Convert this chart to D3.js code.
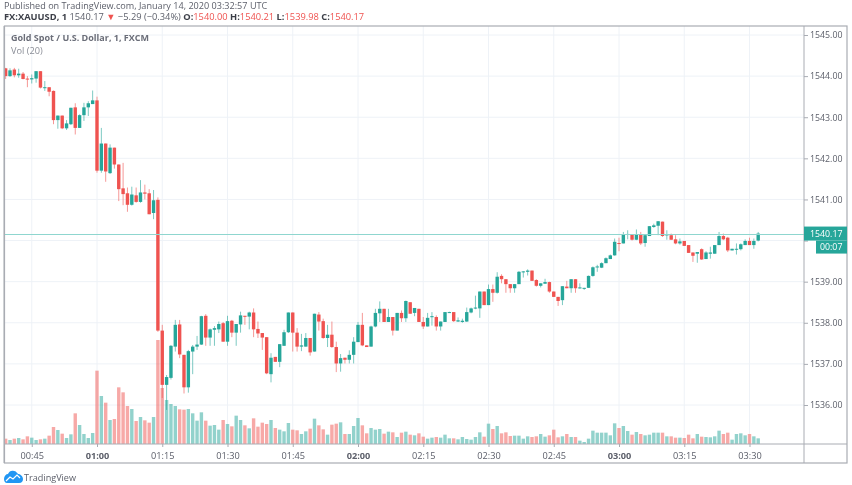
<!DOCTYPE html>
<html><head><meta charset="utf-8">
<script src="https://d3js.org/d3.v7.min.js"></script>
<style>html,body{margin:0;padding:0;background:#fff;overflow:hidden}svg{display:block;filter:blur(.3px)}text{font-family:"Open Sans","Noto Sans",sans-serif}</style>
</head><body><svg id="c" width="852" height="485"></svg>
<script>
const opens=[
1544.19,1544.00,1544.16,1544.02,1544.06,1543.94,1543.92,1543.94,1544.12,1543.71,
1543.73,1543.64,1542.93,1543.04,1542.73,1542.83,1543.24,1542.74,1543.05,1543.24,
1543.32,1543.41,1541.70,1542.36,1541.64,1542.26,1541.85,1541.27,1541.15,1540.87,
1541.10,1540.94,1541.17,1541.15,1540.67,1540.99,1537.81,1536.49,1536.66,1537.42,
1537.96,1537.22,1536.43,1537.30,1537.42,1537.47,1538.17,1537.64,1537.83,1537.84,
1537.99,1537.54,1538.05,1537.76,1537.96,1538.17,1538.15,1538.25,1537.85,1537.75,
1537.65,1536.75,1537.17,1537.05,1537.44,1537.77,1538.25,1537.76,1537.42,1537.42,
1537.63,1537.30,1538.20,1538.04,1537.63,1537.71,1537.41,1537.01,1537.15,1537.10,
1537.22,1537.53,1537.95,1537.45,1537.42,1537.91,1538.23,1538.34,1538.02,1538.14,
1537.81,1538.24,1538.11,1538.50,1538.24,1538.34,1538.02,1537.91,1538.14,1538.14,
1537.91,1538.02,1538.25,1538.26,1538.03,1538.02,1538.03,1538.25,1538.35,1538.35,
1538.76,1538.43,1538.82,1538.73,1539.14,1539.06,1538.94,1538.84,1538.94,1539.23,
1539.24,1539.27,1539.04,1538.90,1538.95,1538.99,1538.76,1538.63,1538.55,1538.88,
1538.84,1539.06,1538.85,1538.84,1538.85,1539.14,1539.35,1539.34,1539.45,1539.55,
1539.64,1539.94,1539.93,1540.14,1540.15,1540.02,1540.15,1539.94,1540.11,1540.33,
1540.36,1540.46,1540.13,1540.13,1540.03,1539.93,1539.99,1539.89,1539.71,1539.68,
1539.79,1539.55,1539.68,1539.68,1539.89,1540.11,1540.07,1539.76,1539.78,1539.79,
1539.89,1539.99,1539.89,1540.00];
const highs=[
1544.20,1544.19,1544.20,1544.18,1544.10,1544.00,1544.04,1544.12,1544.12,1543.88,
1543.73,1543.65,1543.04,1543.04,1542.93,1543.23,1543.34,1543.07,1543.35,1543.39,
1543.65,1543.50,1542.74,1542.36,1542.34,1542.26,1541.85,1541.89,1541.29,1541.31,
1541.29,1541.47,1541.36,1541.25,1541.23,1541.05,1537.95,1536.73,1537.46,1538.07,
1538.07,1537.22,1537.34,1537.46,1537.68,1538.17,1538.21,1537.86,1537.92,1538.03,
1538.02,1538.17,1538.07,1537.97,1538.27,1538.17,1538.27,1538.35,1538.03,1537.75,
1537.65,1537.26,1537.17,1537.48,1537.83,1538.25,1538.25,1537.87,1537.73,1537.75,
1537.63,1538.22,1538.26,1538.10,1537.95,1538.03,1537.54,1537.24,1537.15,1537.33,
1537.65,1538.02,1538.24,1537.45,1537.93,1538.34,1538.52,1538.34,1538.34,1538.14,
1538.24,1538.30,1538.54,1538.50,1538.36,1538.34,1538.14,1538.24,1538.26,1538.18,
1538.03,1538.26,1538.27,1538.26,1538.13,1538.10,1538.37,1538.37,1538.66,1538.76,
1538.76,1538.93,1538.93,1539.23,1539.18,1539.06,1538.94,1538.94,1539.26,1539.26,
1539.30,1539.27,1539.06,1538.96,1539.07,1539.00,1538.76,1538.63,1538.89,1539.02,
1539.06,1539.06,1538.96,1538.85,1539.15,1539.37,1539.41,1539.47,1539.59,1539.66,
1540.05,1540.07,1540.21,1540.25,1540.15,1540.27,1540.21,1540.14,1540.35,1540.41,
1540.47,1540.46,1540.25,1540.17,1540.13,1540.05,1539.99,1539.89,1539.71,1539.72,
1539.81,1539.74,1539.85,1539.89,1540.21,1540.17,1540.09,1539.80,1539.93,1539.93,
1540.03,1540.07,1540.05,1540.21];
const lows=[
1543.93,1543.98,1543.97,1543.96,1543.92,1543.73,1543.82,1543.84,1543.70,1543.64,
1543.51,1542.83,1542.72,1542.71,1542.69,1542.81,1542.58,1542.74,1542.91,1543.03,
1543.32,1541.65,1541.65,1541.43,1541.62,1541.75,1540.96,1540.86,1540.70,1540.85,
1540.92,1540.92,1541.00,1540.64,1540.52,1537.78,1536.17,1535.88,1536.62,1537.30,
1537.14,1536.28,1536.30,1536.75,1537.34,1537.46,1537.44,1537.44,1537.44,1537.75,
1537.54,1537.44,1537.65,1537.44,1537.76,1537.95,1537.84,1537.65,1537.63,1537.34,
1536.75,1536.55,1537.05,1536.92,1537.44,1537.75,1537.30,1537.30,1537.31,1537.42,
1537.20,1537.30,1537.81,1537.61,1537.41,1537.39,1536.80,1536.81,1537.01,1537.01,
1537.01,1537.53,1537.43,1537.41,1537.42,1537.89,1538.02,1538.02,1538.02,1537.69,
1537.81,1538.02,1538.02,1538.22,1538.16,1538.02,1537.85,1537.91,1537.93,1537.81,
1537.81,1538.02,1538.24,1538.02,1538.02,1538.00,1538.02,1538.23,1538.33,1538.12,
1538.43,1538.43,1538.51,1538.71,1538.96,1538.73,1538.73,1538.73,1538.94,1539.10,
1539.15,1539.02,1538.88,1538.86,1538.95,1538.73,1538.63,1538.41,1538.43,1538.84,
1538.73,1538.73,1538.83,1538.80,1538.85,1539.12,1539.24,1539.33,1539.45,1539.55,
1539.63,1539.74,1539.93,1540.03,1540.00,1540.01,1539.89,1539.85,1540.11,1540.31,
1540.13,1540.09,1540.02,1540.02,1539.91,1539.90,1539.87,1539.70,1539.48,1539.46,
1539.53,1539.55,1539.56,1539.68,1539.89,1540.01,1539.72,1539.76,1539.66,1539.76,
1539.89,1539.89,1539.80,1539.98];
const closes=[
1544.00,1544.14,1544.02,1544.06,1543.93,1543.92,1543.95,1544.12,1543.72,1543.73,
1543.62,1542.93,1543.04,1542.73,1542.85,1543.23,1542.74,1543.05,1543.24,1543.34,
1543.41,1541.70,1542.36,1541.68,1542.26,1541.85,1541.25,1541.13,1540.87,1541.12,
1540.94,1541.17,1541.14,1540.64,1540.98,1537.81,1536.49,1536.68,1537.44,1537.95,
1537.23,1536.43,1537.31,1537.42,1537.47,1538.16,1537.64,1537.84,1537.87,1537.97,
1537.54,1538.04,1537.76,1537.97,1538.18,1538.15,1538.25,1537.84,1537.74,1537.64,
1536.77,1537.15,1537.05,1537.48,1537.77,1538.25,1537.76,1537.42,1537.45,1537.63,
1537.28,1538.22,1538.03,1537.63,1537.71,1537.41,1537.01,1537.14,1537.10,1537.22,
1537.54,1537.95,1537.45,1537.41,1537.91,1538.24,1538.34,1538.02,1538.14,1537.81,
1538.24,1538.11,1538.53,1538.22,1538.36,1538.02,1537.91,1538.12,1538.16,1537.91,
1538.03,1538.26,1538.26,1538.04,1538.06,1538.05,1538.26,1538.35,1538.37,1538.76,
1538.43,1538.82,1538.73,1539.12,1539.06,1538.94,1538.84,1538.94,1539.24,1539.25,
1539.27,1539.02,1538.90,1538.96,1538.99,1538.76,1538.63,1538.53,1538.89,1538.84,
1539.06,1538.84,1538.86,1538.85,1539.14,1539.35,1539.37,1539.45,1539.57,1539.64,
1539.97,1539.93,1540.15,1540.16,1540.02,1540.15,1539.93,1540.13,1540.35,1540.37,
1540.47,1540.11,1540.15,1540.02,1539.93,1539.98,1539.87,1539.70,1539.63,1539.72,
1539.54,1539.71,1539.71,1539.89,1540.11,1540.03,1539.76,1539.80,1539.80,1539.91,
1539.99,1539.89,1539.99,1540.17];
const volumes=[
16,12,16,18,14,23,19,12,14,16,25,51,42,31,18,29,92,57,30,18,
33,220,144,124,72,75,170,155,114,105,69,81,71,64,81,312,168,132,120,114,
104,103,105,92,70,95,70,55,57,43,72,60,53,85,72,56,47,77,52,64,
60,72,48,43,38,63,43,41,30,38,46,76,56,44,28,58,61,65,30,30,
54,78,56,32,48,43,45,31,37,35,21,34,37,28,26,32,22,16,19,21,
19,28,17,17,14,21,15,13,21,35,22,61,45,54,32,35,24,25,25,16,
23,21,23,30,22,26,43,20,23,30,21,21,10,6,16,40,34,34,34,26,
62,48,54,39,28,36,30,26,28,34,34,34,23,23,19,19,18,28,17,30,
22,21,20,23,40,30,34,13,30,32,26,30,23,17];
const priceTicks=[1536,1537,1538,1539,1540,1541,1542,1543,1544,1545];
const hiddenPriceLabels=[1540];
const timeTickLabels=["00:45","01:00","01:15","01:30","01:45","02:00","02:15","02:30","02:45","03:00","03:15","03:30"];
const boldTickLabels=["01:00","02:00","03:00"];
const firstMinute="2020-01-14T00:39:00Z";
const lastPrice=1540.17, countdown="00:07";

const UP="#26a69a",DOWN="#ef5350",GRID="#eef2f7",BORDER="#a9acb3",TXT="#5d606b";
const L=5,T=26,PR=804,R=847,TB=444,B=463;
const svg=d3.select("#c");
const t0=new Date(firstMinute).getTime();
const timeOf=i=>new Date(t0+i*60000);
const parseTick=s=>new Date(`2020-01-14T${s}:00Z`);
const x=d3.scaleUtc().domain([parseTick("01:00"),parseTick("03:00")]).range([97,619]);
const y=d3.scaleLinear().domain([1536,1545]).range([405,35]);
const yV=d3.scaleLinear().domain([0,312]).range([TB,340]);
const idx=d3.range(opens.length);

// grid
const g=svg.append("g");
g.selectAll(".v").data(timeTickLabels).join("line").attr("x1",d=>x(parseTick(d))).attr("x2",d=>x(parseTick(d))).attr("y1",T).attr("y2",TB).attr("stroke",GRID);
g.selectAll(".h").data(priceTicks).join("line").attr("x1",L).attr("x2",PR).attr("y1",d=>y(d)).attr("y2",d=>y(d)).attr("stroke",GRID);

svg.append("clipPath").attr("id","pane").append("rect").attr("x",L).attr("y",T).attr("width",PR-L).attr("height",TB-T);
const pane=svg.append("g").attr("clip-path","url(#pane)");
const bw=3.4;
// volume
pane.append("g").selectAll("rect").data(idx).join("rect")
 .attr("x",i=>x(timeOf(i))-bw/2).attr("width",bw)
 .attr("y",i=>yV(volumes[i])).attr("height",i=>TB-yV(volumes[i]))
 .attr("fill",i=>closes[i]>=opens[i]?UP:DOWN).attr("opacity",.5);
// last price line
svg.append("line").attr("x1",L).attr("x2",PR).attr("y1",Math.round(y(lastPrice))+.5).attr("y2",Math.round(y(lastPrice))+.5)
 .attr("stroke","#8fd6cf").attr("stroke-width",1);
// candles
pane.append("g").selectAll("line").data(idx).join("line")
 .attr("x1",i=>x(timeOf(i))).attr("x2",i=>x(timeOf(i)))
 .attr("y1",i=>y(highs[i])).attr("y2",i=>y(lows[i]))
 .attr("stroke",i=>closes[i]>=opens[i]?UP:DOWN).attr("stroke-width",1).attr("opacity",.6);
pane.append("g").selectAll("rect").data(idx).join("rect")
 .attr("x",i=>x(timeOf(i))-bw/2).attr("width",bw)
 .attr("y",i=>y(Math.max(opens[i],closes[i])))
 .attr("height",i=>Math.max(1,Math.abs(y(opens[i])-y(closes[i]))))
 .attr("fill",i=>closes[i]>=opens[i]?UP:DOWN);

// frame
svg.append("rect").attr("x",L-.5).attr("y",T).attr("width",R-L+.5).attr("height",B-T).attr("fill","none").attr("stroke",BORDER).attr("stroke-width",1.2);
svg.append("line").attr("x1",L-1).attr("x2",L-1).attr("y1",T).attr("y2",B).attr("stroke",BORDER);
svg.append("line").attr("x1",PR).attr("x2",PR).attr("y1",T).attr("y2",B).attr("stroke",BORDER);
svg.append("line").attr("x1",L).attr("x2",R).attr("y1",TB).attr("y2",TB).attr("stroke",BORDER);

// axes
const ya=svg.append("g").attr("transform",`translate(${PR},0)`).call(d3.axisRight(y).tickValues(priceTicks).tickSize(4).tickPadding(2).tickFormat(v=>hiddenPriceLabels.includes(v)?"":d3.format(".2f")(v)));
ya.select(".domain").remove();
ya.selectAll("line").attr("stroke",BORDER);
ya.selectAll("text").attr("fill",TXT).style("font-size","8.8px");
const xa=svg.append("g").attr("transform",`translate(0,${TB})`).call(d3.axisBottom(x).tickValues(timeTickLabels.map(parseTick)).tickSize(3).tickPadding(5).tickFormat(d3.utcFormat("%H:%M")));
xa.select(".domain").remove();
xa.selectAll("line").attr("stroke",BORDER);
xa.selectAll("text").attr("fill",TXT).style("font-size","9.2px")
 .attr("font-weight",function(d){return boldTickLabels.includes(d3.utcFormat("%H:%M")(d))?"700":"400"});

// price tags
svg.append("rect").attr("x",PR).attr("y",y(lastPrice)-7).attr("width",R-PR).attr("height",14).attr("fill",UP);
svg.append("text").attr("x",810).attr("y",y(lastPrice)+3.2).attr("fill","#fff").style("font-size","8.8px").text(lastPrice.toFixed(2));
svg.append("rect").attr("x",816).attr("y",y(lastPrice)+7).attr("width",R-816).attr("height",13).attr("fill",UP);
svg.append("text").attr("x",820).attr("y",y(lastPrice)+16.5).attr("fill","#fff").style("font-size","8.8px").text(countdown);

// header
svg.append("text").attr("x",4).attr("y",8.5).attr("fill",TXT).style("font-size","9.1px").text("Published on TradingView.com, January 14, 2020 03:32:57 UTC");
const last=opens.length-1;
const h2=svg.append("text").attr("x",4).attr("y",20).attr("fill",TXT).style("font-size","9.3px");
h2.append("tspan").attr("font-weight","700").attr("fill","#3c3f48").text("FX:XAUUSD, 1 ");
h2.append("tspan").text(" "+lastPrice.toFixed(2)+" ");
h2.append("tspan").attr("fill",DOWN).text("▼");
h2.append("tspan").text(" −5.29 (−0.34%) ");
[["O:",opens[last]],["H:",highs[last]],["L:",lows[last]],["C:",closes[last]]].forEach(([k,v])=>{
  h2.append("tspan").attr("font-weight","700").attr("fill","#3c3f48").text(k);
  h2.append("tspan").attr("fill",DOWN).text(v.toFixed(2)+" ");
});
svg.append("text").attr("x",11).attr("y",41).attr("fill","#6a6d78").attr("font-weight","700").style("font-size","9px").text("Gold Spot / U.S. Dollar, 1, FXCM");
svg.append("text").attr("x",11).attr("y",54).attr("fill","#8a8d96").style("font-size","9.2px").text("Vol (20)");

// logo
svg.append("path").attr("fill","#2196f3").attr("d","M4 479c0-3 2-5 4-5 1-3 4-4 6-3 2 0 3 2 4 3 2 0 5 2 5 5 0 2-1 4-4 4H7c-2 0-3-2-3-4z");
svg.append("path").attr("fill","none").attr("stroke","#fff").attr("stroke-width",1.2).attr("d","M6 481l4-4 3 2 4-4 3 3");
svg.append("text").attr("x",24).attr("y",481).attr("fill",TXT).style("font-size","9.1px").text("TradingView");
</script></body></html>
